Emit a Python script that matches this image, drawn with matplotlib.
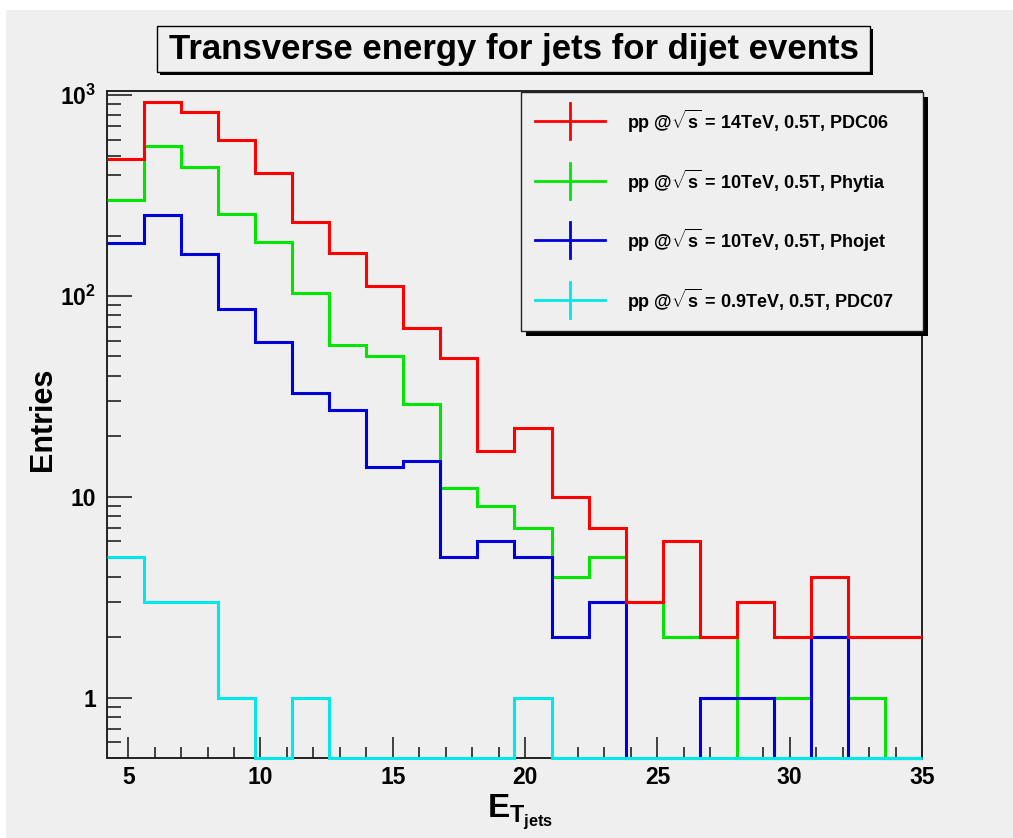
import numpy as np
import matplotlib
matplotlib.use("Agg")
import matplotlib.pyplot as plt
from matplotlib.patches import Rectangle
from matplotlib.lines import Line2D
from matplotlib.ticker import FixedLocator, MultipleLocator, NullFormatter

# bin edges of the E_T histograms (GeV)
bin_edges = [4.2, 5.6, 7.0, 8.4, 9.8, 11.2, 12.6, 14.0, 15.4, 16.8, 18.2, 19.6,
             21.0, 22.4, 23.8, 25.2, 26.6, 28.0, 29.4, 30.8, 32.2, 33.6, 35.0]

# entries per bin
pdc06_14tev = [480, 930, 830, 600, 410, 233, 164, 112, 69, 49, 17, 22,
               10, 7, 3, 6, 2, 3, 2, 4, 2, 2]
pythia_10tev = [300, 560, 440, 256, 186, 104, 57, 50, 29, 11, 9, 7,
                4, 5, 3, 2, 2, 0, 1, 2, 1, 0]
phojet_10tev = [184, 253, 161, 86, 59, 33, 27, 14, 15, 5, 6, 5,
                2, 3, 0, 0, 1, 1, 0, 2, 0, 0]
pdc07_09tev = [5, 3, 3, 1, 0, 1, 0, 0, 0, 0, 0, 1,
               0, 0, 0, 0, 0, 0, 0, 0, 0, 0]

labels = [r"pp @$\sqrt{s}$ = 14TeV, 0.5T, PDC06",
          r"pp @$\sqrt{s}$ = 10TeV, 0.5T, Phytia",
          r"pp @$\sqrt{s}$ = 10TeV, 0.5T, Phojet",
          r"pp @$\sqrt{s}$ = 0.9TeV, 0.5T, PDC07"]
colors = ["#ff0000", "#00e600", "#0000d8", "#00e8e8"]

W, H = 1013, 838
BG = "#efefef"

plt.rcParams["font.family"] = ["Liberation Sans", "DejaVu Sans"]
plt.rcParams["font.weight"] = "bold"
plt.rcParams["mathtext.fontset"] = "custom"
plt.rcParams["mathtext.rm"] = "Liberation Sans:bold"
plt.rcParams["mathtext.it"] = "Liberation Sans:bold"
plt.rcParams["mathtext.bf"] = "Liberation Sans:bold"


def fx(x):
    return x / W


def fy(y):
    return 1 - y / H


fig = plt.figure(figsize=(W / 100, H / 100), dpi=100)
fig.patch.set_facecolor("white")
fig.patches.append(Rectangle((fx(6), 0), 1, fy(10), transform=fig.transFigure,
                             facecolor=BG, edgecolor="none", zorder=-10))

ax = fig.add_axes([fx(107), fy(758), fx(922) - fx(107), fy(91) - fy(758)])
ax.set_zorder(1)
ax.set_facecolor(BG)
ax.set_yscale("log")
ymin, ymax = 0.5, 1050
ax.set_xlim(4.2, 35)
ax.set_ylim(ymin, ymax)

series = [pdc06_14tev, pythia_10tev, phojet_10tev, pdc07_09tev]
order = [1, 2, 0, 3]
for i in order:
    vals = np.array(series[i], dtype=float)
    # empty bins sit on the bottom of the frame, as in ROOT
    vals = np.where(vals > 0, vals, ymin)
    ax.stairs(vals, bin_edges, baseline=None, color=colors[i], lw=2.2,
              clip_on=False, zorder=3)

for s in ax.spines.values():
    s.set_linewidth(1.4)
    s.set_color("#222222")

ax.xaxis.set_major_locator(FixedLocator([5, 10, 15, 20, 25, 30, 35]))
ax.xaxis.set_minor_locator(MultipleLocator(1))
ax.yaxis.set_major_locator(FixedLocator([1, 10, 100, 1000]))
ax.set_yticklabels(["1", "10", r"$10^{2}$", r"$10^{3}$"])
ax.yaxis.set_minor_formatter(NullFormatter())
ax.tick_params(which="both", direction="in", top=False, right=False,
               labelsize=16.5, color="#222222")
ax.tick_params(axis="y", which="major", length=18, width=1.2, pad=8)
ax.tick_params(axis="y", which="minor", length=10, width=1.2)
ax.tick_params(axis="x", which="major", length=15, width=1.2, pad=6)
ax.tick_params(axis="x", which="minor", length=8, width=1.2)
for lab in ax.get_xticklabels() + ax.get_yticklabels():
    lab.set_fontweight("bold")

fig.text(fx(43), fy(419), "Entries", rotation=90, ha="center", va="center",
         fontsize=22, fontweight="bold")
fig.text(fx(487), fy(817), r"$E_{T_{jets}}$", ha="left", va="baseline",
         fontsize=24)

# title box with shadow
tb = (157, 26, 870, 72)
fig.patches.append(Rectangle((fx(tb[0] + 3), fy(tb[3] + 3)), fx(tb[2] - tb[0]),
                             fy(tb[1]) - fy(tb[3]), transform=fig.transFigure,
                             facecolor="black", edgecolor="none", zorder=1))
fig.patches.append(Rectangle((fx(tb[0]), fy(tb[3])), fx(tb[2] - tb[0]),
                             fy(tb[1]) - fy(tb[3]), transform=fig.transFigure,
                             facecolor=BG, edgecolor="black", lw=1.0, zorder=2))
fig.text(fx((tb[0] + tb[2]) / 2), fy((tb[1] + tb[3]) / 2 + 1),
         "Transverse energy for jets for dijet events",
         ha="center", va="center", fontsize=25, fontweight="bold", zorder=3)

# legend box with shadow
lb = (521, 92, 923, 331)
fig.patches.append(Rectangle((fx(lb[0] + 5), fy(lb[3] + 5)), fx(lb[2] - lb[0]),
                             fy(lb[1]) - fy(lb[3]), transform=fig.transFigure,
                             facecolor="black", edgecolor="none", zorder=4))
fig.patches.append(Rectangle((fx(lb[0]), fy(lb[3])), fx(lb[2] - lb[0]),
                             fy(lb[1]) - fy(lb[3]), transform=fig.transFigure,
                             facecolor=BG, edgecolor="#222222", lw=1.0, zorder=5))
rows = [121, 181, 240, 300]
for label, c, yr in zip(labels, colors, rows):
    fig.add_artist(Line2D([fx(535), fx(605)], [fy(yr), fy(yr)], color=c, lw=2,
                          transform=fig.transFigure, zorder=6))
    fig.add_artist(Line2D([fx(570), fx(570)], [fy(yr - 18), fy(yr + 18)], color=c,
                          lw=2, transform=fig.transFigure, zorder=6))
    fig.text(fx(627), fy(yr), label, ha="left", va="center", fontsize=13,
             fontweight="bold", zorder=7)

fig.savefig("out.png", dpi=100, facecolor=fig.get_facecolor())
